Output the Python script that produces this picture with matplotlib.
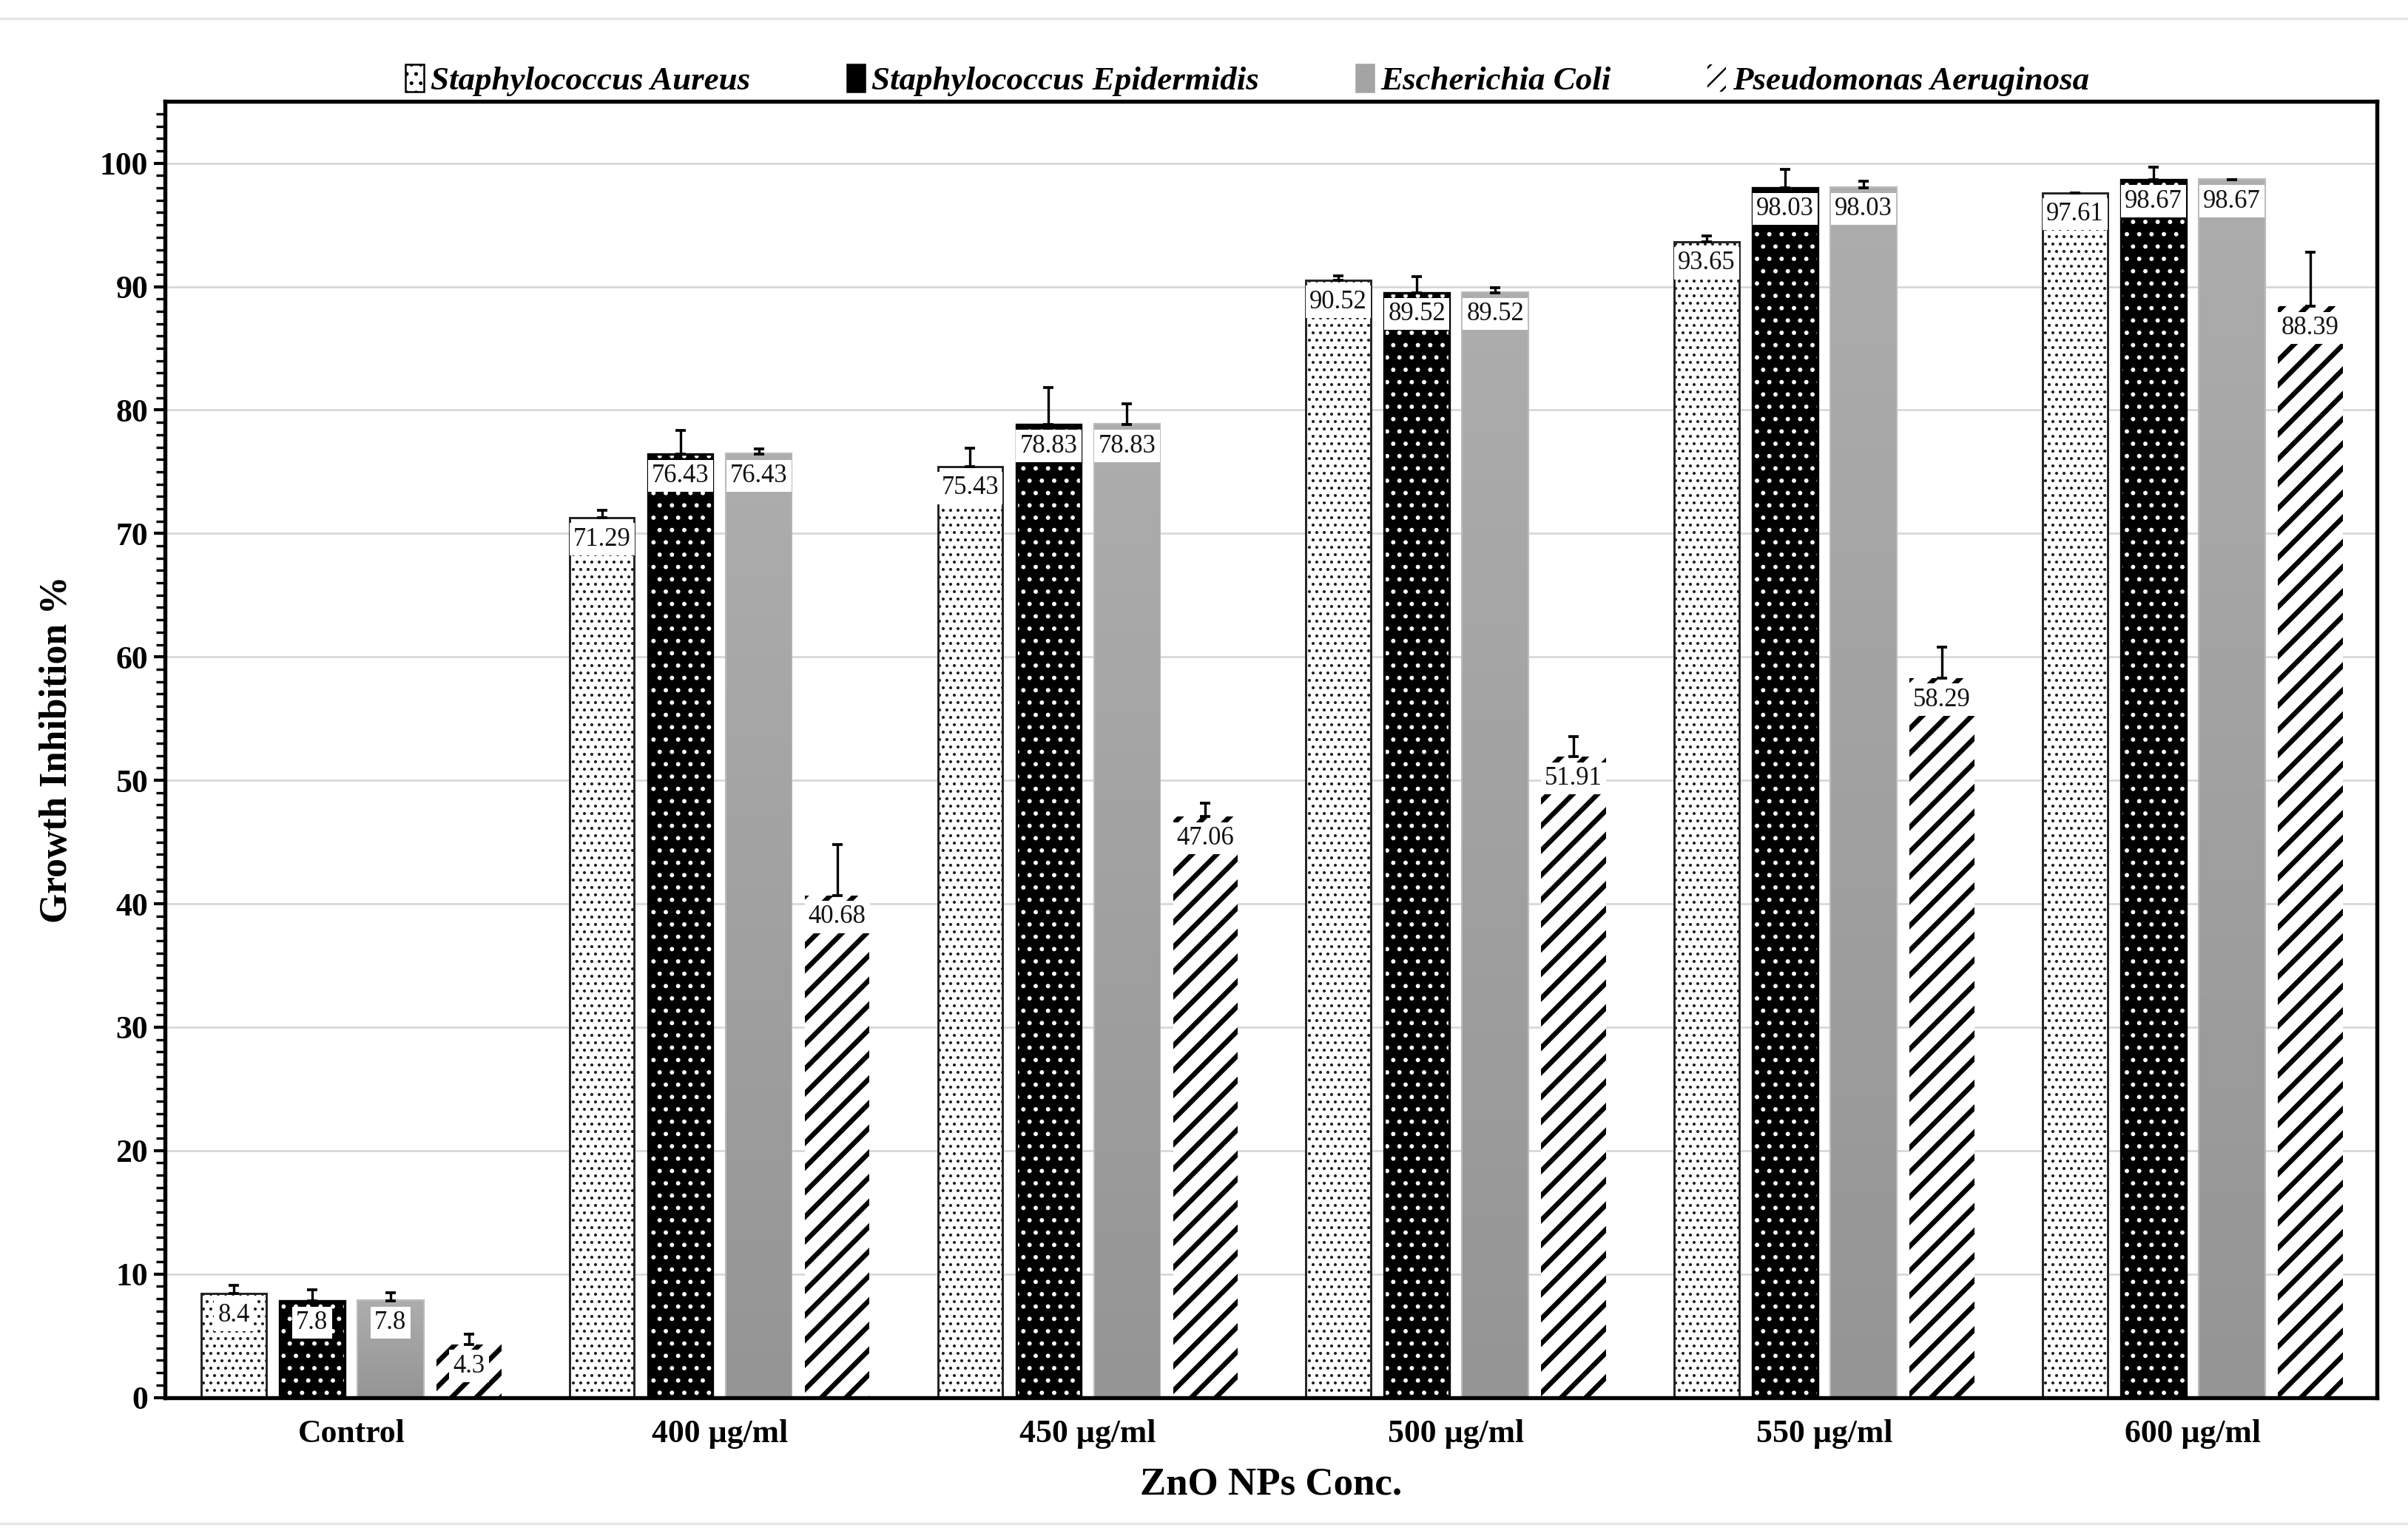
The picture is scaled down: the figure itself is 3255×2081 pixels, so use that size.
import matplotlib
matplotlib.use("Agg")
import matplotlib.pyplot as plt
import numpy as np
from matplotlib.patches import Patch
from matplotlib.lines import Line2D
from matplotlib.colors import LinearSegmentedColormap

# Data
categories = ['Control', '400 µg/ml', '450 µg/ml', '500 µg/ml', '550 µg/ml', '600 µg/ml']
series = ['Staphylococcus Aureus', 'Staphylococcus Epidermidis', 'Escherichia Coli', 'Pseudomonas Aeruginosa']
s_aureus = [8.4, 71.29, 75.43, 90.52, 93.65, 97.61]
s_epidermidis = [7.8, 76.43, 78.83, 89.52, 98.03, 98.67]
e_coli = [7.8, 76.43, 78.83, 89.52, 98.03, 98.67]
p_aeruginosa = [4.3, 40.68, 47.06, 51.91, 58.29, 88.39]
# upper error bars (estimated)
err_aureus = [0.7, 0.6, 1.5, 0.35, 0.45, 0.0]
err_epidermidis = [0.9, 1.9, 3.0, 1.3, 1.45, 1.0]
err_coli = [0.7, 0.45, 1.7, 0.4, 0.5, 0.0]
err_aeruginosa = [0.85, 4.1, 1.1, 1.65, 2.5, 4.4]

plt.rcParams['font.family'] = ['Liberation Serif', 'DejaVu Serif']
plt.rcParams['hatch.linewidth'] = 0.6

fig = plt.figure(figsize=(10.85, 6.937), dpi=300)
ax = fig.add_axes([0.0685, 0.092, 0.9185, 0.842])

x = np.arange(len(categories))
width = 0.176
step = 0.213
values = [s_aureus, s_epidermidis, e_coli, p_aeruginosa]
errors = [err_aureus, err_epidermidis, err_coli, err_aeruginosa]


def set_hlw(bars, lw):
    for b in bars:
        if hasattr(b, 'set_hatch_linewidth'):
            b.set_hatch_linewidth(lw)


grad_cmap = LinearSegmentedColormap.from_list('g', ['#959595', '#adadad'])

for i, (vals, errs) in enumerate(zip(values, errors)):
    pos = x + (i - 1.5) * step
    if i == 0:
        bars = ax.bar(pos, vals, width, color='white', edgecolor='#222222',
                      hatch='.....', linewidth=0.7, zorder=2)
        set_hlw(bars, 0.5)
    elif i == 1:
        bars = ax.bar(pos, vals, width, color='black', edgecolor='white',
                      hatch='...', linewidth=0, zorder=2)
        set_hlw(bars, 0.6)
        ax.bar(pos, vals, width, color='none', edgecolor='black', linewidth=0.8, zorder=2.1)
    elif i == 2:
        bars = ax.bar(pos, vals, width, color='#a4a4a4', edgecolor='#bcbcbc',
                      linewidth=1.0, zorder=2)
        for b in bars:
            bx, by = b.get_x(), b.get_y()
            im = ax.imshow(np.linspace(0, 1, 100).reshape(-1, 1), cmap=grad_cmap,
                           extent=[bx, bx + b.get_width(), by, by + b.get_height()],
                           origin='lower', aspect='auto', zorder=2.05)
            im.set_clip_path(b)
    else:
        with plt.rc_context({'hatch.linewidth': 1.6}):
            bars = ax.bar(pos, vals, width, color='white', edgecolor='black',
                          hatch='///', linewidth=0, zorder=2)
        set_hlw(bars, 1.6)
    ax.errorbar(pos, vals, yerr=[np.zeros(len(errs)), errs], fmt='none',
                ecolor='black', elinewidth=0.8, capsize=1.6, capthick=0.9, zorder=3)
    for px, v in zip(pos, vals):
        ax.annotate(f'{v:g}', (px, v), xytext=(0, -7), textcoords='offset points',
                    ha='center', va='center', fontsize=8.3, color='#111111', zorder=4,
                    bbox=dict(boxstyle='square,pad=0.15', fc='white', ec='none'))

ax.set_xlim(-0.506, 5.5)
ax.set_ylim(0, 105)
ax.set_yticks(np.arange(0, 101, 10))
ax.set_yticks(np.arange(0, 105, 1), minor=True)
ax.set_xticks(x)
ax.set_xticklabels(categories, fontsize=10.5, fontweight='bold')
ax.tick_params(axis='x', length=0, pad=7)
ax.tick_params(axis='y', which='major', length=3.5, width=1.0, labelsize=10.5, pad=2)
ax.tick_params(axis='y', which='minor', length=3.0, width=0.8)
for lab in ax.get_yticklabels():
    lab.set_fontweight('bold')
ax.yaxis.grid(True, color='#d4d4d4', linewidth=0.6, zorder=0)
ax.set_axisbelow(True)
for s in ax.spines.values():
    s.set_linewidth(1.3)
    s.set_color('black')

ax.set_ylabel('Growth Inhibition %', fontsize=12.4, fontweight='bold', labelpad=8)
ax.set_xlabel('ZnO NPs Conc.', fontsize=12.7, fontweight='bold', labelpad=6)

# legend
pa_handle = Patch(facecolor='white', edgecolor='black', hatch='////', linewidth=0)
if hasattr(pa_handle, 'set_hatch_linewidth'):
    pa_handle.set_hatch_linewidth(1.0)
handles = [
    Patch(facecolor='white', edgecolor='black', hatch='....', linewidth=0.6),
    Patch(facecolor='black', edgecolor='black', linewidth=0.6),
    Patch(facecolor='#a4a4a4', edgecolor='#a4a4a4', linewidth=0.6),
    pa_handle,
]
fig.legend(handles, series, loc='center', bbox_to_anchor=(0.518, 0.948), ncol=4,
           frameon=False, handlelength=0.55, handleheight=0.9, handletextpad=0.2,
           columnspacing=2.9, prop=dict(family='Liberation Serif', weight='bold',
                                        style='italic', size=10.8))

# faint frame lines of the figure
fig.add_artist(Line2D([0, 1], [0.988, 0.988], color='#e6e6e6', linewidth=0.8))
fig.add_artist(Line2D([0, 1], [0.01, 0.01], color='#e6e6e6', linewidth=0.8))

fig.savefig('out.png', dpi=300)
plt.close(fig)
